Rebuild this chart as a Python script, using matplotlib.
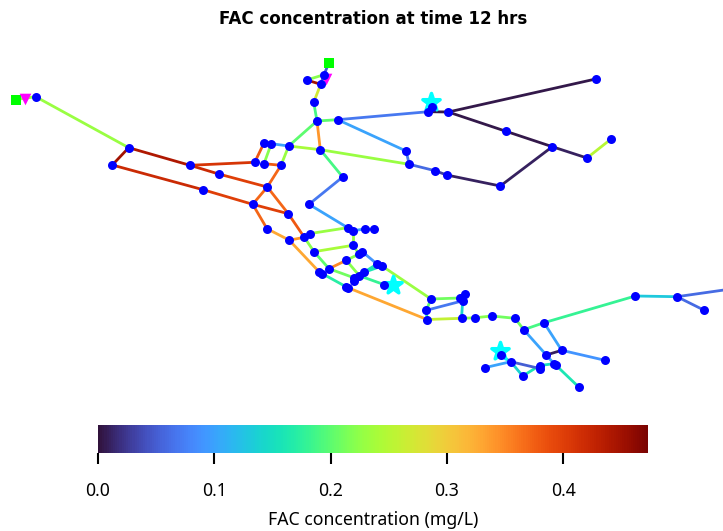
import matplotlib
matplotlib.use("Agg")
import matplotlib.pyplot as plt
from matplotlib.collections import LineCollection
from matplotlib.colors import Normalize
from matplotlib.cm import ScalarMappable

plt.rcParams["font.family"] = ["Noto Sans", "DejaVu Sans"]

# junctions, position
node_id = ["a", "b", "c", "d", "e", "f", "g", "h", "i", "j", "k", "l", "m", "n", "o", "p", "q", "r", "s", "t",
           "u", "v", "w", "x", "y", "z", "aa", "ab", "ac", "ad", "ae", "af", "ag", "ah", "ai", "aj", "ak", "al",
           "am", "an", "ao", "ap", "aq", "ar", "as", "at", "au", "av", "aw", "ax", "ay", "az", "ba", "bb", "bc",
           "bd", "be", "bf", "bg", "bh", "bi", "bj", "bk", "bl", "bm", "bn", "bo", "bp", "bq", "br", "bs", "bt",
           "bu", "bv", "bw", "bx", "ca", "cb", "cc", "cd", "ce", "cf", "cg", "ch", "ci", "cj", "ck", "cl", "cm"]
node_x = [35.7, 128.7, 112.3, 190, 218.7, 203, 252.7, 267.3, 288.3, 254.7, 264, 281, 264, 271.3, 288.7, 320.3,
          317, 337.7, 313.7, 320.7, 306.7, 324, 342.7, 309, 267, 289.3, 304.3, 310.3, 347.7, 353, 364.7, 374,
          353, 314, 359, 362.3, 346.3, 329, 319.3, 322.3, 377, 382, 364, 359.3, 353.7, 354.3, 384.3, 346, 348,
          431, 426.3, 427, 460, 464.5, 462.7, 461.5, 474.7, 491.7, 515, 523.7, 544, 635.3, 677, 704.3, 561.7,
          546.3, 605, 500.7, 510.7, 484.7, 522.7, 539.7, 539.7, 554, 555.7, 578.7, 431.7, 428.3, 448.3, 595.7,
          506, 552.3, 587, 610.7, 500.3, 446.7, 435, 409.3, 406]
node_y = [96.7, 147.7, 165, 165.3, 174, 189.7, 204.3, 187, 213.7, 162.3, 163.7, 165.3, 143, 143.7, 146, 149.7,
          121, 119.7, 102.3, 84.3, 80, 74.7, 177, 204.3, 228.7, 240.2, 237.3, 233.5, 227.7, 230.7, 229, 229.3,
          245.3, 251.7, 254, 251.7, 260.3, 268.7, 272, 273.7, 264, 266, 272.3, 275.7, 277.7, 281, 284.7, 286.7,
          287.7, 299, 310.3, 319.5, 298, 294.3, 300.8, 318.3, 317.8, 316, 318.3, 329.7, 322.7, 296, 296.7, 310.3,
          350.3, 355, 360.3, 355.3, 361.7, 367.7, 376, 365.5, 368.5, 363.7, 365, 387, 106.7, 111.7, 112, 79,
          131.3, 146.7, 158, 139.3, 186, 175, 170.7, 164.3, 151]

# reservoirs and the pipe that runs off the right edge (no dot on these)
extra_id = ["tank1", "tank2", "off"]
extra_x = [16, 329, 745]
extra_y = [99.5, 62.7, 287]

# pumps
pump_x = [25.3, 325.5]
pump_y = [98.5, 79]

# chlorine booster stations
booster_x = [431, 392.7, 500]
booster_y = [102, 284.5, 350.5]

# pipes as from-to, each row of pipe_fac lines up with the same row here
pipe_ends = ["tank1-a", "a-b", "b-c", "b-d", "d-e", "e-h", "c-f", "f-g",
             "d-j", "j-m", "k-n", "m-n", "n-o", "k-l", "o-l", "l-h",
             "h-g", "h-i", "g-i", "i-aa", "g-y", "y-z", "z-aa", "z-am",
             "aa-ah", "ah-al", "am-av", "al-ak", "al-as", "ab-ac", "ac-ad", "ad-ae",
             "ae-af", "x-ac", "w-x", "p-w", "q-p", "o-q", "o-p", "p-cl",
             "q-r", "q-s", "s-t", "t-u", "u-v", "t-v", "v-tank2", "r-cb",
             "r-cm", "cm-cl", "cl-ck", "ck-cj", "cj-ci", "ci-cf", "cf-ce", "ce-cc",
             "cc-cd", "cb-cc", "cb-ca", "cf-cg", "cg-ch", "ad-ag", "ag-ai", "ai-ak",
             "ak-ar", "aj-ao", "ao-ap", "ao-aq", "aq-ar", "ar-au", "ap-ax", "av-aw",
             "aw-az", "ax-ay", "ay-az", "ax-ba", "ba-bb", "ay-bc", "bc-bd", "az-bd",
             "bd-be", "be-bf", "bf-bg", "bg-bh", "bh-bi", "bi-bj", "bj-bk", "bk-off",
             "bk-bl", "bi-bm", "bh-bn", "bm-bn", "bm-bo", "bp-bq", "bq-br", "bq-bs",
             "bs-bt", "bt-bv", "bq-bu", "bw-bx", "bn-bv", "am-an", "as-at", "ag-ah",
             "aa-ab", "ai-aj", "ar-as", "ap-aq"]
pipe_fac = [0.23, 0.23, 0.45, 0.44, 0.42, 0.40, 0.42, 0.40,
            0.41, 0.38, 0.22, 0.10, 0.10, 0.38, 0.23, 0.37,
            0.37, 0.37, 0.40, 0.38, 0.37, 0.33, 0.34, 0.33,
            0.22, 0.20, 0.17, 0.35, 0.21, 0.23, 0.10, 0.10,
            0.10, 0.10, 0.07, 0.19, 0.34, 0.20, 0.24, 0.23,
            0.20, 0.19, 0.27, 0.45, 0.22, 0.05, 0.05, 0.07,
            0.10, 0.07, 0.06, 0.03, 0.01, 0.01, 0.005, 0.005,
            0.005, 0.005, 0.05, 0.01, 0.25, 0.23, 0.22, 0.22,
            0.22, 0.09, 0.09, 0.16, 0.16, 0.18, 0.23, 0.17,
            0.33, 0.20, 0.18, 0.21, 0.21, 0.07, 0.14, 0.26,
            0.22, 0.22, 0.21, 0.21, 0.19, 0.18, 0.13, 0.06,
            0.06, 0.10, 0.10, 0.01, 0.09, 0.14, 0.10, 0.14,
            0.16, 0.15, 0.05, 0.16, 0.10, 0.17, 0.21, 0.24,
            0.34, 0.22, 0.22, 0.16]

fac_max = 0.473
bar_ticks = [0.0, 0.1, 0.2, 0.3, 0.4]

pos = dict(zip(node_id + extra_id, zip(node_x + extra_x, node_y + extra_y)))
segments = [(pos[p.split("-")[0]], pos[p.split("-")[1]]) for p in pipe_ends]
norm = Normalize(0, fac_max)

fig = plt.figure(figsize=(7.23, 5.31), dpi=100)
ax = fig.add_axes([0, 0, 1, 1])
ax.set_xlim(0, 723)
ax.set_ylim(531, 0)
ax.axis("off")

pipes = LineCollection(segments, cmap="turbo", norm=norm, linewidths=2.0, zorder=1)
pipes.set_array(pipe_fac)
ax.add_collection(pipes)

ax.scatter(booster_x, booster_y, marker="*", s=170, c="#00ffff", edgecolors="#00ffff", linewidths=2.5,
           joinstyle="round", zorder=2)
ax.scatter(extra_x[:2], extra_y[:2], marker="s", s=62, c="#00ff00", linewidths=0, zorder=3)
ax.scatter(pump_x, pump_y, marker="v", s=70, c="#ff00ff", linewidths=0, zorder=3)
ax.scatter(node_x, node_y, marker="o", s=42, c="#0000ff", linewidths=0, zorder=4)

fig.text(373 / 723, 1 - 18.5 / 531, "FAC concentration at time 12 hrs", ha="center", va="center",
         fontsize=12, fontweight="bold", family="DejaVu Sans", color="black")

# colorbar strip under the network
cax = fig.add_axes([98 / 723, 1 - 453 / 531, 550 / 723, 28 / 531])
cbar = fig.colorbar(ScalarMappable(norm=norm, cmap="turbo"), cax=cax, orientation="horizontal")
cbar.set_ticks(bar_ticks)
cbar.ax.tick_params(length=8, width=1.5, labelsize=12.7, pad=13)
cbar.outline.set_visible(False)
cbar.set_label("FAC concentration (mg/L)", fontsize=12.7, labelpad=8)

fig.savefig("out.png", dpi=100)
